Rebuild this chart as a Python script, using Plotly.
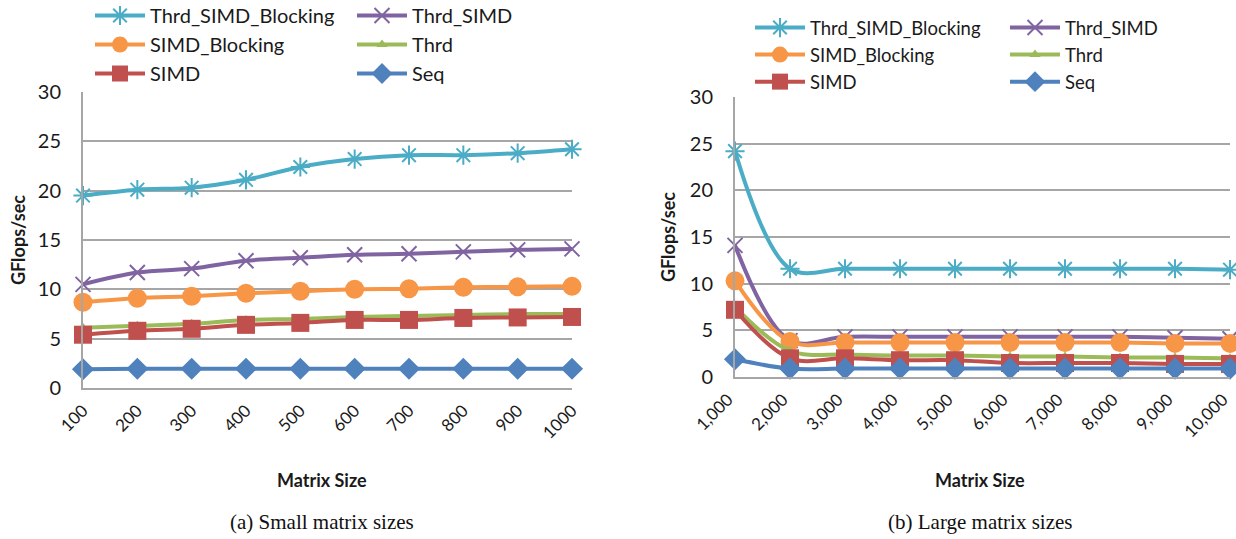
import plotly.graph_objects as go

# Matrix sizes on the two horizontal axes
small_sizes = [100, 200, 300, 400, 500, 600, 700, 800, 900, 1000]
large_sizes = [1000, 2000, 3000, 4000, 5000, 6000, 7000, 8000, 9000, 10000]
small_labels = ["100", "200", "300", "400", "500", "600", "700", "800", "900", "1000"]
large_labels = ["1,000", "2,000", "3,000", "4,000", "5,000", "6,000", "7,000", "8,000", "9,000", "10,000"]

series_names = ["Thrd_SIMD_Blocking", "Thrd_SIMD", "SIMD_Blocking", "Thrd", "SIMD", "Seq"]

# GFlops/sec, small matrices
small_thrd_simd_blocking = [19.5, 20.1, 20.3, 21.1, 22.4, 23.2, 23.6, 23.6, 23.8, 24.2]
small_thrd_simd = [10.5, 11.7, 12.1, 12.9, 13.2, 13.5, 13.6, 13.8, 14.0, 14.1]
small_simd_blocking = [8.7, 9.1, 9.3, 9.6, 9.8, 10.0, 10.05, 10.2, 10.25, 10.3]
small_thrd = [6.1, 6.3, 6.5, 6.9, 7.0, 7.2, 7.3, 7.4, 7.5, 7.5]
small_simd = [5.4, 5.8, 6.0, 6.4, 6.6, 6.9, 6.9, 7.1, 7.15, 7.2]
small_seq = [1.9, 1.95, 1.95, 1.95, 1.95, 1.95, 1.95, 1.95, 1.95, 1.95]

# GFlops/sec, large matrices
large_thrd_simd_blocking = [24.2, 11.6, 11.6, 11.6, 11.6, 11.6, 11.6, 11.6, 11.6, 11.5]
large_thrd_simd = [14.1, 3.9, 4.3, 4.3, 4.3, 4.3, 4.3, 4.3, 4.2, 4.1]
large_simd_blocking = [10.3, 3.8, 3.7, 3.7, 3.7, 3.7, 3.7, 3.7, 3.6, 3.6]
large_thrd = [7.5, 2.8, 2.4, 2.3, 2.3, 2.2, 2.2, 2.1, 2.1, 2.0]
large_simd = [7.2, 2.0, 2.0, 1.8, 1.8, 1.5, 1.5, 1.5, 1.4, 1.4]
large_seq = [1.9, 0.9, 0.9, 0.9, 0.9, 0.9, 0.9, 0.9, 0.9, 0.9]

y_ticks = [0, 5, 10, 15, 20, 25, 30]

colors = ["#4BACC6", "#8064A2", "#F79646", "#9BBB59", "#C0504D", "#4F81BD"]
symbols = ["asterisk-open", "x-thin-open", "circle", "triangle-up", "square", "diamond"]
msizes = [16, 15, 19, 10, 18, 17]

W, H = 1236, 539
FONT = "Lato"


def px_x(p):
    return p / W


def px_y(p):
    return 1 - p / H


fig = go.Figure()

small_sets = [small_thrd_simd_blocking, small_thrd_simd, small_simd_blocking,
              small_thrd, small_simd, small_seq]
large_sets = [large_thrd_simd_blocking, large_thrd_simd, large_simd_blocking,
              large_thrd, large_simd, large_seq]

for panel, (xs, sets, xa, ya, legs) in enumerate([
    (small_sizes, small_sets, "x", "y", ("legend", "legend2")),
    (large_sizes, large_sets, "x2", "y2", ("legend3", "legend4")),
]):
    for i, name in enumerate(series_names):
        mk = dict(symbol=symbols[i], size=msizes[i], color=colors[i])
        if symbols[i].endswith("open"):
            mk["line"] = dict(width=2, color=colors[i])
        fig.add_trace(go.Scatter(
            x=xs, y=sets[i], name=name, mode="lines+markers",
            line=dict(color=colors[i], width=4, shape="spline", smoothing=1.0),
            marker=mk, xaxis=xa, yaxis=ya, cliponaxis=False,
            legend=legs[i % 2],
        ))

grid_col = "#A6A6A6"
tick_font = dict(family=FONT, size=20, color="#1a1a1a")
xtick_font = dict(family=FONT, size=17, color="#1a1a1a")

common_y = dict(range=[0, 30], tickvals=y_ticks, showgrid=True, gridcolor=grid_col,
                gridwidth=1.5, showline=True, linecolor=grid_col, linewidth=2,
                zeroline=False, tickfont=tick_font, ticks="", ticklabelstandoff=16,
                automargin=False)
common_x = dict(showgrid=False, showline=True, linecolor=grid_col, linewidth=2,
                zeroline=False, tickangle=-45, tickfont=xtick_font, ticks="",
                automargin=False, ticklabeloverflow="allow", ticklabelstandoff=4)


def legend_style(x, y, size):
    return dict(x=px_x(x), y=px_y(y), orientation="v", xanchor="left", yanchor="top",
                bgcolor="rgba(0,0,0,0)",
                font=dict(family=FONT, size=size, color="#1a1a1a"),
                itemwidth=50, tracegroupgap=0, itemclick=False)


fig.update_layout(
    width=W, height=H, margin=dict(l=0, r=0, t=0, b=0, autoexpand=False),
    paper_bgcolor="white", plot_bgcolor="white",
    showlegend=True,
    xaxis=dict(domain=[px_x(83), px_x(572)], range=[100, 1000],
               tickvals=small_sizes, ticktext=small_labels, anchor="y", **common_x),
    yaxis=dict(domain=[px_y(388), px_y(92)], anchor="x", **common_y),
    xaxis2=dict(domain=[px_x(735), px_x(1230)], range=[1000, 10000],
                tickvals=large_sizes, ticktext=large_labels, anchor="y2",
                ticklabelshift=-7, **common_x),
    yaxis2=dict(domain=[px_y(377), px_y(97)], anchor="x2", **common_y),
    legend=legend_style(90, -4, 20),
    legend2=legend_style(352, -4, 20),
    legend3=legend_style(750, 9, 18.5),
    legend4=legend_style(1005, 9, 18.5),
)

ann = [
    dict(text="<b>GFlops/sec</b>", x=px_x(18), y=px_y(240), textangle=-90,
         font=dict(family=FONT, size=18, color="#1a1a1a")),
    dict(text="<b>GFlops/sec</b>", x=px_x(668), y=px_y(237), textangle=-90,
         font=dict(family=FONT, size=18, color="#1a1a1a")),
    dict(text="<b>Matrix Size</b>", x=px_x(322), y=px_y(480),
         font=dict(family=FONT, size=18, color="#1a1a1a")),
    dict(text="<b>Matrix Size</b>", x=px_x(980), y=px_y(480),
         font=dict(family=FONT, size=18, color="#1a1a1a")),
    dict(text="(a) Small matrix sizes", x=px_x(322), y=px_y(522),
         font=dict(family="Liberation Serif", size=21, color="#111")),
    dict(text="(b) Large matrix sizes", x=px_x(980), y=px_y(522),
         font=dict(family="Liberation Serif", size=21, color="#111")),
]
for a in ann:
    fig.add_annotation(xref="paper", yref="paper", showarrow=False,
                       xanchor="center", yanchor="middle", **a)

fig.write_html("out.html")
